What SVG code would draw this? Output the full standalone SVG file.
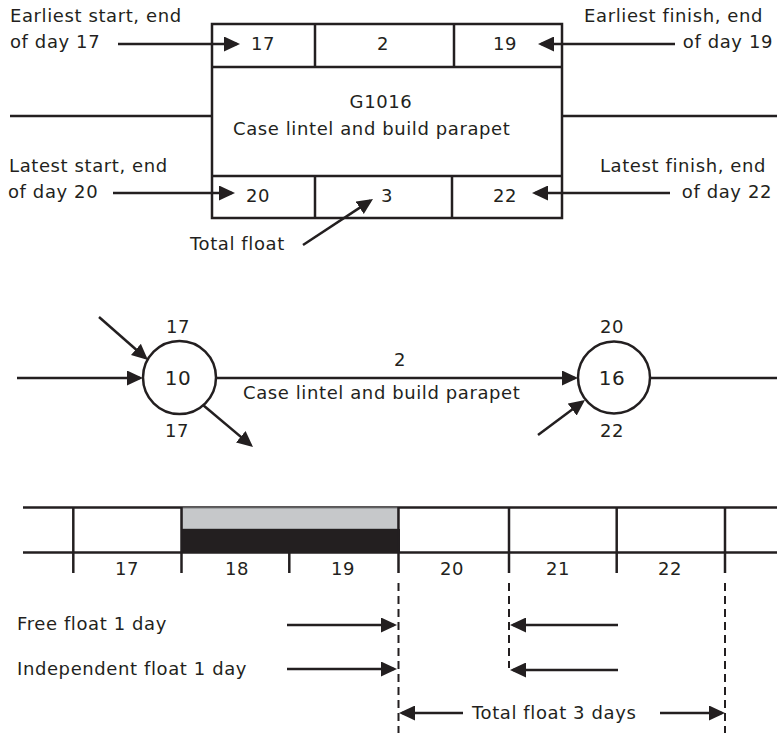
<svg xmlns="http://www.w3.org/2000/svg" width="777" height="733" viewBox="0 0 777 733">
<style>
text{font-family:"DejaVu Sans","Liberation Sans",sans-serif;font-size:18px;letter-spacing:0.6px;fill:#231f20}
.c{text-anchor:middle}
.e{text-anchor:end}
.big{font-size:20px}
.ln{stroke:#231f20;stroke-width:2.5;fill:none}
.ar{stroke:#231f20;stroke-width:2.5;fill:none;marker-end:url(#ah)}
.dash{stroke:#231f20;stroke-width:2;stroke-dasharray:8 5;fill:none}
.box{stroke:#231f20;stroke-width:2.5;fill:#fff}
</style>
<defs>
<marker id="ah" markerUnits="userSpaceOnUse" markerWidth="16" markerHeight="15" refX="13" refY="7.5" orient="auto">
<path d="M0,0 L16,7.5 L0,15 Z" fill="#231f20"/>
</marker>
</defs>
<rect width="777" height="733" fill="#fff"/>

<g id="activity-box">
<rect class="box" x="212" y="24" width="350" height="194"/>
<line class="ln" x1="212" y1="67" x2="562" y2="67"/>
<line class="ln" x1="212" y1="176" x2="562" y2="176"/>
<line class="ln" x1="315" y1="24" x2="315" y2="67"/>
<line class="ln" x1="454" y1="24" x2="454" y2="67"/>
<line class="ln" x1="315" y1="176" x2="315" y2="218"/>
<line class="ln" x1="452" y1="176" x2="452" y2="218"/>
<text class="c" x="263" y="50">17</text>
<text class="c" x="383" y="50">2</text>
<text class="c" x="505" y="50">19</text>
<text class="c" x="381" y="108">G1016</text>
<text x="233" y="135">Case lintel and build parapet</text>
<text class="c" x="258" y="202">20</text>
<text class="c" x="387" y="202">3</text>
<text class="c" x="505" y="202">22</text>
</g>

<g id="box-labels">
<text x="10" y="22">Earliest start, end</text>
<text x="10" y="48">of day 17</text>
<text x="9" y="172">Latest start, end</text>
<text x="8" y="198">of day 20</text>
<text class="e" x="763" y="22">Earliest finish, end</text>
<text class="e" x="773" y="48">of day 19</text>
<text class="e" x="766" y="172">Latest finish, end</text>
<text class="e" x="772" y="198">of day 22</text>
<text x="190" y="250">Total float</text>
</g>

<g id="node-10">
<circle class="box" cx="179.5" cy="377.5" r="36.5"/>
<text class="c big" x="178" y="385">10</text>
<text class="c" x="178" y="333">17</text>
<text class="c" x="177" y="437">17</text>
</g>

<g id="node-16">
<circle class="box" cx="614" cy="377.5" r="36"/>
<text class="c big" x="612" y="385">16</text>
<text class="c" x="612" y="333">20</text>
<text class="c" x="612" y="437">22</text>
</g>

<g id="arrow-labels">
<text class="c" x="400" y="366">2</text>
<text x="243" y="399">Case lintel and build parapet</text>
</g>

<g id="bar-chart">
<line class="ln" x1="23" y1="507.5" x2="777" y2="507.5"/>
<line class="ln" x1="23" y1="552.5" x2="777" y2="552.5"/>
<rect x="182" y="508" width="216" height="21" fill="#c6c8ca" stroke="#8a8c8e" stroke-width="1.2"/>
<rect x="181" y="529" width="219" height="24" fill="#231f20"/>
<line class="ln" x1="73.3" y1="507" x2="73.3" y2="573"/>
<line class="ln" x1="181.5" y1="507" x2="181.5" y2="573"/>
<line class="ln" x1="289.3" y1="552" x2="289.3" y2="573"/>
<line class="ln" x1="398.5" y1="507" x2="398.5" y2="573"/>
<line class="ln" x1="509" y1="507" x2="509" y2="573"/>
<line class="ln" x1="616.7" y1="507" x2="616.7" y2="573"/>
<line class="ln" x1="725" y1="507" x2="725" y2="573"/>
<text class="c" x="127" y="575">17</text>
<text class="c" x="237" y="575">18</text>
<text class="c" x="343" y="575">19</text>
<text class="c" x="452" y="575">20</text>
<text class="c" x="558" y="575">21</text>
<text class="c" x="670" y="575">22</text>
<line class="dash" x1="398.5" y1="583" x2="398.5" y2="733"/>
<line class="dash" x1="509" y1="583" x2="509" y2="668"/>
<line class="dash" x1="725" y1="583" x2="725" y2="733"/>
<text x="17" y="630">Free float 1 day</text>
<text x="17" y="675">Independent float 1 day</text>
<text x="472" y="719">Total float 3 days</text>
</g>

<g id="connectors">
<line class="ln" x1="10" y1="116" x2="212" y2="116"/>
<line class="ln" x1="562" y1="116" x2="777" y2="116"/>
<line class="ar" x1="118" y1="44" x2="237" y2="44"/>
<line class="ar" x1="675" y1="44" x2="541" y2="44"/>
<line class="ar" x1="113" y1="193" x2="232" y2="193"/>
<line class="ar" x1="670" y1="193" x2="535" y2="193"/>
<line class="ar" x1="303" y1="245" x2="370.5" y2="200.6"/>
<line class="ar" x1="17" y1="378" x2="140" y2="378"/>
<line class="ar" x1="99" y1="317" x2="145.7" y2="358"/>
<line class="ar" x1="216" y1="378" x2="575" y2="378"/>
<line class="ar" x1="203" y1="405" x2="250.7" y2="445.1"/>
<line class="ar" x1="538" y1="435" x2="582.6" y2="401.8"/>
<line class="ln" x1="650" y1="378" x2="777" y2="378"/>
<line class="ar" x1="287" y1="625" x2="394" y2="625"/>
<line class="ar" x1="287" y1="669" x2="394" y2="669"/>
<line class="ar" x1="618" y1="625" x2="513" y2="625"/>
<line class="ar" x1="618" y1="670" x2="513" y2="670"/>
<line class="ar" x1="463" y1="713" x2="402" y2="713"/>
<line class="ar" x1="660" y1="713" x2="722" y2="713"/>
</g>
</svg>
